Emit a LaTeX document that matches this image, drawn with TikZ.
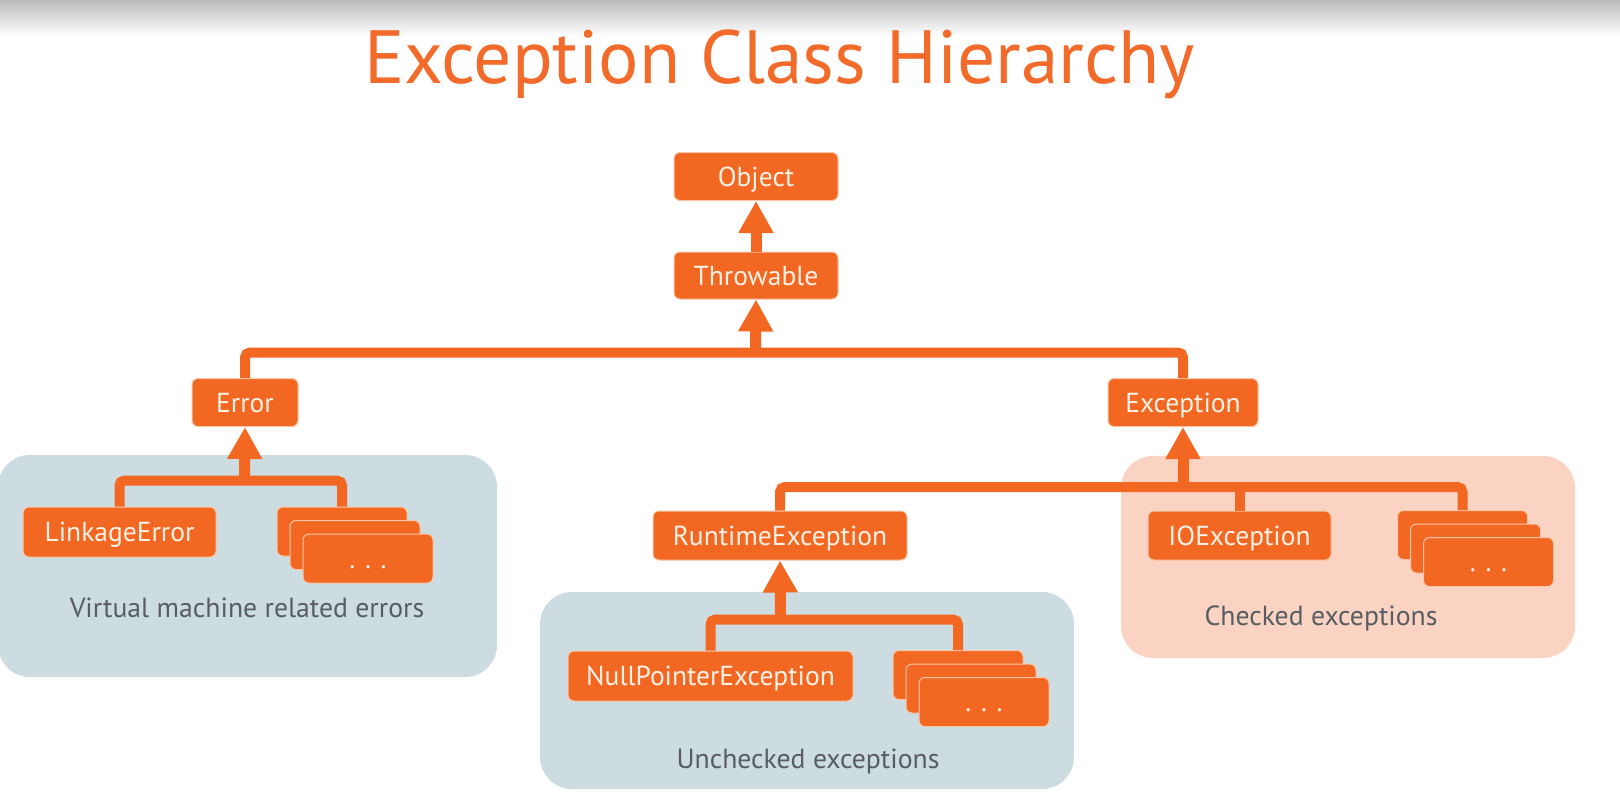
\documentclass[tikz,border=0pt]{standalone}
\usepackage{fontspec}
\setmainfont{PT Sans}
\usetikzlibrary{arrows.meta}
\definecolor{orng}{HTML}{F26822}
\definecolor{orngline}{HTML}{F9C6A8}
\definecolor{nodetext}{HTML}{FDF1E6}
\definecolor{bluebox}{HTML}{CCDCE0}
\definecolor{peachbox}{HTML}{FAD3C3}
\definecolor{captxt}{HTML}{585D62}
\definecolor{titleorng}{HTML}{F26B2A}
\definecolor{topgray}{HTML}{BCBCBC}
\newcommand{\nodefont}{\fontsize{27.5}{30}\selectfont}
\tikzset{
  cls/.style={fill=orng, draw=orngline, line width=1pt, rounded corners=6pt,
    text=nodetext, font=\nodefont, inner sep=0pt, text height=19pt, text depth=0pt},
  stk/.style={cls, minimum width=130pt, minimum height=49pt},
  region/.style={rounded corners=32pt},
  captext/.style={font=\fontsize{27.7}{32}\selectfont, text=captxt, anchor=base, inner sep=0pt},
  barline/.style={draw=orng, line width=10pt, rounded corners=5pt},
  arrline/.style={draw=orng, line width=11pt, -{Triangle[width=33pt,length=32pt]}}
}
\begin{document}
\begin{tikzpicture}[x=1pt,y=-1pt]
\useasboundingbox (0,0) rectangle (1620,798);
\fill[white] (0,0) rectangle (1620,798);
\shade[top color=topgray, bottom color=white] (0,0) rectangle (1620,36);

% title
\node[anchor=base, inner sep=0pt, text=titleorng] (title) at (779.5,83)
  {\resizebox{831pt}{!}{\fontsize{78}{90}\selectfont Exception Class Hierarchy}};

% region boxes
\fill[bluebox, region] (-2,455) rectangle (497,677);
\fill[bluebox, region] (540,592) rectangle (1074,789);
\fill[peachbox, region] (1121,456) rectangle (1575,658);

% nodes
\node[cls, minimum width=164pt, minimum height=48pt] (obj) at (756,176.5) {Object};
\node[cls, minimum width=164pt, minimum height=47pt] (thr) at (756,275.5) {Throwable};
\node[cls, minimum width=106pt, minimum height=48pt] (err) at (245,402.5) {Error};
\node[cls, minimum width=150pt, minimum height=48pt] (exc) at (1183,402.5) {Exception};
\node[cls, minimum width=193pt, minimum height=50pt] (lnk) at (119.5,532) {LinkageError};
\node[cls, minimum width=254pt, minimum height=49pt] (rte) at (780,535.5) {RuntimeException};
\node[cls, minimum width=183pt, minimum height=49pt] (ioe) at (1239.5,535.5) {IOException};
\node[cls, minimum width=285pt, minimum height=50pt] (npe) at (710.5,676) {NullPointerException};

% stacks
\node[stk] (sl1) at (342,531.5) {};
\node[stk] (sl2) at (355,545) {};
\node[stk] (sl3) at (368,558.5) {. . .};
\node[stk] (sr1) at (1462.5,535) {};
\node[stk] (sr2) at (1475.5,548.5) {};
\node[stk] (sr3) at (1488.5,562) {. . .};
\node[stk] (sm1) at (958,675) {};
\node[stk] (sm2) at (971,688.5) {};
\node[stk] (sm3) at (984,702) {. . .};

% captions
\node[captext] (capL) at (247,617) {Virtual machine related errors};
\node[captext] (capM) at (808,768) {Unchecked exceptions};
\node[captext] (capR) at (1321,625) {Checked exceptions};

% junctions
\coordinate (tj) at (755.5,352.5);
\coordinate (ej) at (244.5,480.5);
\coordinate (xj) at (1183,487);
\coordinate (rj) at (780.5,619.5);

% connectors
\draw[arrline] (thr.north) -- (obj.south);
\draw[barline] (err.north) |- (tj) -| (exc.north);
\draw[arrline] (tj) -- (thr.south);
\draw[barline] (lnk.north) |- (ej) -| (sl1.north);
\draw[arrline] (ej) -- (err.south);
\draw[barline] (rte.north) |- (xj) -| (sr1.north);
\draw[barline] (ioe.north) -- (ioe.north |- xj);
\draw[arrline] (xj) -- (exc.south);
\draw[barline] (npe.north) |- (rj) -| (sm1.north);
\draw[arrline] (rj) -- (rte.south);
\end{tikzpicture}
\end{document}
